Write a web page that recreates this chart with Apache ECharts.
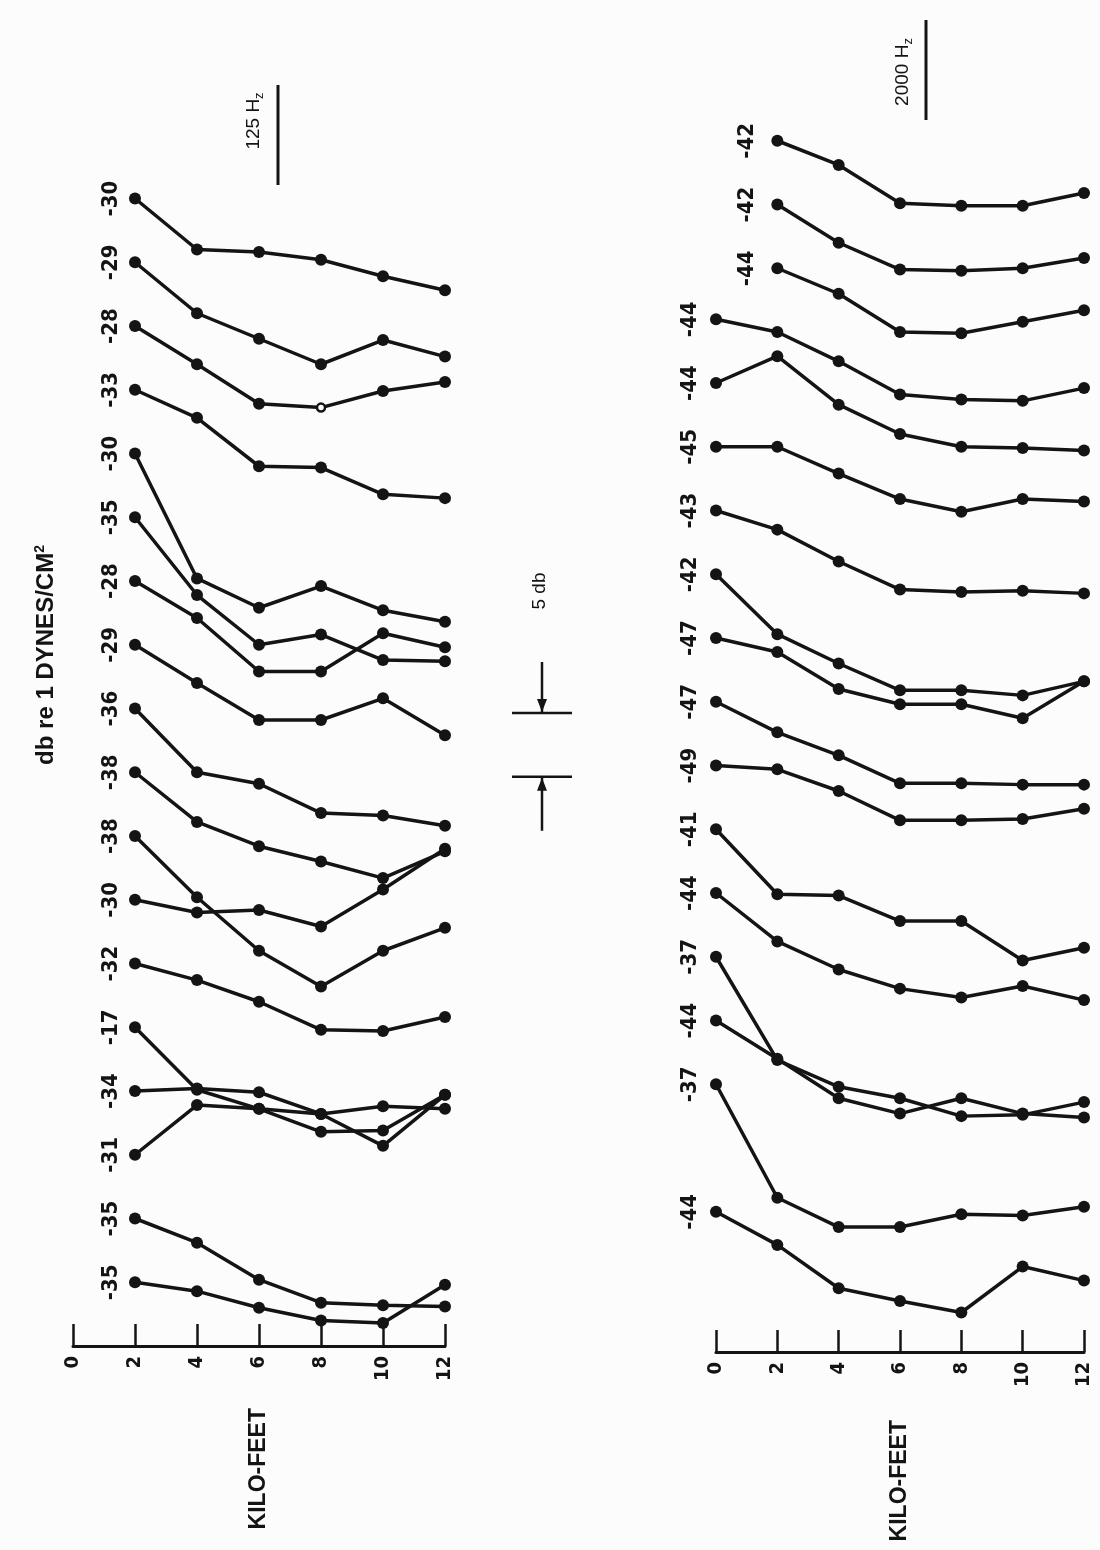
<!DOCTYPE html>
<html>
<head>
<meta charset="utf-8">
<script src="https://cdn.jsdelivr.net/npm/echarts@6/dist/echarts.min.js"></script>
<style>
  html, body { margin: 0; padding: 0; background: #fcfcfc; }
  #main { width: 1100px; height: 1550px; }
</style>
</head>
<body>
<div id="main"></div>
<script>
// depth stations, kilo-feet
var kft125 = [2, 4, 6, 8, 10, 12];
var kft2000 = [0, 2, 4, 6, 8, 10, 12];

// 125 Hz profiles, db re 1 dyne/cm2 (first value = printed label)
var db125 = [
  [-30, -34.0, -34.2, -34.8, -36.1, -37.2],
  [-29, -33.0, -35.0, -37.0, -35.1, -36.4],
  [-28, -31.0, -34.1, -34.4, -33.1, -32.4],
  [-33, -35.2, -39.0, -39.1, -41.2, -41.5],
  [-30, -39.8, -42.1, -40.4, -42.3, -43.2],
  [-35, -41.1, -45.0, -44.2, -46.2, -46.3],
  [-28, -30.9, -35.1, -35.1, -32.1, -33.2],
  [-29, -32.0, -34.9, -34.9, -33.2, -36.1],
  [-36, -41.0, -41.9, -44.2, -44.4, -45.2],
  [-38, -41.9, -43.8, -45.0, -46.3, -44.2],
  [-38, -42.8, -47.0, -49.8, -47.0, -45.2],
  [-30, -31.0, -30.8, -32.1, -29.2, -26.0],
  [-32, -33.3, -35.0, -37.2, -37.3, -36.2],
  [-17, -21.9, -23.4, -25.2, -25.1, -22.3],
  [-34, -33.8, -34.1, -35.8, -38.3, -34.3],
  [-31, -27.1, -27.4, -27.8, -27.2, -27.4],
  [-35, -36.9, -39.8, -41.6, -41.8, -41.9],
  [-35, -35.7, -37.0, -38.0, -38.2, -35.2]
];
// where each profile's first point sits on the stacked 5 db scale
var stack125 = [90, 85, 80, 75, 70, 65, 60, 55, 50, 45, 40, 35, 30, 25, 20, 15, 10, 5];
// point drawn as an open circle: [profile, station]
var open125 = [[2, 3]];

// 2000 Hz profiles (null = no reading at that depth)
var db2000 = [
  [null, -42, -43.9, -46.9, -47.1, -47.1, -46.1],
  [null, -42, -45.0, -47.1, -47.2, -47.0, -46.2],
  [null, -44, -46.0, -49.0, -49.1, -48.2, -47.3],
  [-44, -45.0, -47.3, -49.9, -50.3, -50.4, -49.4],
  [-44, -41.9, -45.7, -48.0, -49.0, -49.1, -49.3],
  [-45, -45.0, -47.1, -49.1, -50.1, -49.1, -49.3],
  [-43, -44.5, -47.0, -49.2, -49.4, -49.3, -49.5],
  [-42, -46.7, -49.0, -51.1, -51.1, -51.5, -50.4],
  [-47, -48.1, -51.0, -52.2, -52.2, -53.3, -50.4],
  [-47, -49.4, -51.2, -53.4, -53.4, -53.5, -53.5],
  [-49, -49.3, -51.0, -53.3, -53.3, -53.2, -52.4],
  [-41, -46.1, -46.2, -48.2, -48.2, -51.3, -50.3],
  [-44, -47.8, -50.0, -51.5, -52.2, -51.3, -52.4],
  [-37, -45.1, -47.2, -48.1, -49.5, -49.4, -48.4],
  [-44, -47.0, -50.1, -51.3, -50.1, -51.3, -51.6],
  [-37, -45.9, -48.2, -48.2, -47.2, -47.3, -46.6],
  [-44, -46.6, -50.0, -51.0, -51.9, -48.3, -49.4]
];
var stack2000 = [95, 90, 85, 81, 76, 71, 66, 61, 56, 51, 46, 41, 36, 31, 26, 21, 11];

var kftTicks = ['0', '2', '4', '6', '8', '10', '12'];

var ink = '#141414';
var numFont = "'Liberation Sans Narrow', 'DejaVu Sans Condensed', 'Liberation Sans', sans-serif";
var txtFont = "'Liberation Sans', 'DejaVu Sans', sans-serif";

var myChart = echarts.init(document.getElementById('main'), null, { renderer: 'canvas' });

// one line series per profile, shifted so its first reading sits on its stack level
function buildSeries(panel, kft, rows, stack, openPts) {
  var out = [];
  rows.forEach(function(row, i) {
    var first = null;
    row.forEach(function(v) { if (first === null && v !== null) first = v; });
    var shift = stack[i] - first;
    var data = [];
    row.forEach(function(v, j) {
      if (v === null) return;
      var item = { value: [kft[j], +(v + shift).toFixed(2)] };
      if (data.length === 0) {
        item.label = {
          show: true,
          formatter: String(first),
          position: 'left',
          distance: kft[j] === 0 ? 20 : (panel === 0 ? 18 : 24),
          rotate: 90,
          align: 'center',
          verticalAlign: 'middle'
        };
      }
      openPts.forEach(function(p) {
        if (p[0] === i && p[1] === j) {
          item.symbolSize = 8;
          item.itemStyle = { color: '#fcfcfc', borderColor: ink, borderWidth: 2.5 };
        }
      });
      data.push(item);
    });
    out.push({
      type: 'line',
      xAxisIndex: panel,
      yAxisIndex: panel,
      data: data,
      symbol: 'circle',
      symbolSize: 12,
      showSymbol: true,
      lineStyle: { color: ink, width: 3.5 },
      itemStyle: { color: ink },
      label: { fontFamily: numFont, fontSize: 22, fontWeight: 'bold', color: ink },
      emphasis: { disabled: true },
      silent: true,
      animation: false
    });
  });
  return out;
}

function kftAxis(idx) {
  return {
    type: 'value',
    gridIndex: idx,
    min: 0,
    max: 12,
    interval: 2,
    name: 'KILO-FEET',
    nameLocation: 'middle',
    nameRotate: 90,
    nameGap: idx === 0 ? 62 : 68,
    nameTextStyle: { fontFamily: txtFont, fontWeight: 'bold', fontSize: 23, color: ink },
    axisLine: { show: true, onZero: false, lineStyle: { color: ink, width: 3 } },
    axisTick: { show: true, inside: true, length: 22, lineStyle: { color: ink, width: 2.5 } },
    axisLabel: {
      rotate: 90,
      margin: 10,
      fontFamily: numFont,
      fontSize: 20,
      fontWeight: 'bold',
      color: ink,
      formatter: function(v) { return kftTicks[v / 2]; }
    },
    splitLine: { show: false }
  };
}

var pxPerDb = 1275 / 100;
var bar1 = 713;
var bar2 = bar1 + 5 * pxPerDb;

var option = {
  backgroundColor: '#fcfcfc',
  animation: false,
  grid: [
    { left: 73, right: 655, top: 71, bottom: 204 },
    { left: 716, right: 16, top: 77, bottom: 198 }
  ],
  xAxis: [kftAxis(0), kftAxis(1)],
  yAxis: [
    { type: 'value', gridIndex: 0, min: 0, max: 100, show: false },
    { type: 'value', gridIndex: 1, min: 0, max: 100, show: false }
  ],
  series: buildSeries(0, kft125, db125, stack125, open125)
    .concat(buildSeries(1, kft2000, db2000, stack2000, [])),
  graphic: [
    {
      type: 'text', x: 46, y: 655, rotation: Math.PI / 2,
      style: {
        text: 'db re 1 DYNES/CM{sup|2}',
        align: 'center', verticalAlign: 'middle',
        fontFamily: txtFont, fontWeight: 'bold', fontSize: 24, fill: ink,
        rich: { sup: { fontSize: 14, fontWeight: 'bold', fontFamily: txtFont, padding: [0, 0, 12, 0], fill: ink } }
      }
    },
    {
      type: 'text', x: 254, y: 121, rotation: Math.PI / 2,
      style: {
        text: '125 H{sub|z}',
        align: 'center', verticalAlign: 'middle',
        fontFamily: txtFont, fontSize: 19, fill: ink,
        rich: { sub: { fontSize: 13, fontFamily: txtFont, padding: [10, 0, 0, 0], fill: ink } }
      }
    },
    { type: 'line', shape: { x1: 278, y1: 85, x2: 278, y2: 185 }, style: { stroke: ink, lineWidth: 3 } },
    {
      type: 'text', x: 903, y: 72, rotation: Math.PI / 2,
      style: {
        text: '2000 H{sub|z}',
        align: 'center', verticalAlign: 'middle',
        fontFamily: txtFont, fontSize: 19, fill: ink,
        rich: { sub: { fontSize: 13, fontFamily: txtFont, padding: [10, 0, 0, 0], fill: ink } }
      }
    },
    { type: 'line', shape: { x1: 926, y1: 20, x2: 926, y2: 120 }, style: { stroke: ink, lineWidth: 3 } },
    // 5 db scale marker
    {
      type: 'text', x: 540, y: 591, rotation: Math.PI / 2,
      style: {
        text: '5 db', align: 'center', verticalAlign: 'middle',
        fontFamily: txtFont, fontSize: 19, fill: ink
      }
    },
    { type: 'line', shape: { x1: 512, y1: bar1, x2: 572, y2: bar1 }, style: { stroke: ink, lineWidth: 2.5 } },
    { type: 'line', shape: { x1: 542, y1: bar1 - 51, x2: 542, y2: bar1 }, style: { stroke: ink, lineWidth: 2.5 } },
    { type: 'polygon', shape: { points: [[537, bar1 - 14], [547, bar1 - 14], [542, bar1 - 1]] }, style: { fill: ink } },
    { type: 'line', shape: { x1: 512, y1: bar2, x2: 572, y2: bar2 }, style: { stroke: ink, lineWidth: 2.5 } },
    { type: 'line', shape: { x1: 542, y1: bar2, x2: 542, y2: bar2 + 54 }, style: { stroke: ink, lineWidth: 2.5 } },
    { type: 'polygon', shape: { points: [[537, bar2 + 14], [547, bar2 + 14], [542, bar2 + 1]] }, style: { fill: ink } }
  ]
};

myChart.setOption(option);
</script>
</body>
</html>
